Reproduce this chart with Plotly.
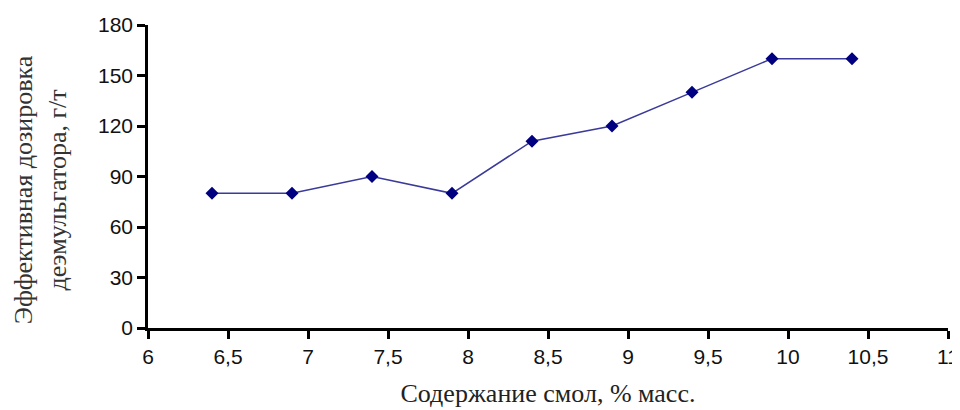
import plotly.graph_objects as go

resin_content = [6.4, 6.9, 7.4, 7.9, 8.4, 8.9, 9.4, 9.9, 10.4]
effective_dose = [80, 80, 90, 80, 111, 120, 140, 160, 160]
x_ticks = [6, 6.5, 7, 7.5, 8, 8.5, 9, 9.5, 10, 10.5, 11]
y_ticks = [0, 30, 60, 90, 120, 150, 180]
x_title = "Содержание смол, % масс."
y_title = "Эффективная дозировка<br>деэмульгатора, г/т"

fig = go.Figure()
fig.add_trace(go.Scatter(
    x=resin_content, y=effective_dose, mode="lines+markers",
    line=dict(color="#3a3a9a", width=1.5),
    marker=dict(symbol="diamond", size=10, color="#000080"),
    showlegend=False,
))

tick_font = dict(family="Liberation Sans, Arial", size=21, color="#111")
title_font = dict(family="Liberation Serif, Times New Roman", size=26, color="#222")

# The page body adds an 8px offset; compensate in size and margins.
fig.update_layout(
    width=952, height=402,
    margin=dict(l=140, r=12, t=17, b=82),
    paper_bgcolor="white", plot_bgcolor="white",
    separators=", ",
    font=dict(family="Liberation Sans, Arial", size=21, color="#111"),
)
fig.update_xaxes(
    range=[6, 11], tickvals=x_ticks, showgrid=False, zeroline=False,
    automargin=False, tickfont=tick_font,
    showline=True, linecolor="black", linewidth=2.5,
    ticks="outside", ticklen=8, tickwidth=2.5, tickcolor="black",
    title=dict(text=x_title, font=title_font, standoff=17),
)
fig.update_yaxes(
    range=[0, 180], tickvals=y_ticks, showgrid=False, zeroline=False,
    automargin=False, tickfont=tick_font,
    showline=True, linecolor="black", linewidth=2.5,
    ticks="outside", ticklen=8, tickwidth=2.5, tickcolor="black",
)
fig.add_annotation(
    text=y_title, textangle=-90, showarrow=False,
    xref="paper", yref="paper", x=-0.135, y=0.455,
    xanchor="center", yanchor="middle", align="center",
    font=dict(family="Liberation Serif, Times New Roman", size=26, color="#333"),
)
fig.write_html("out.html")
